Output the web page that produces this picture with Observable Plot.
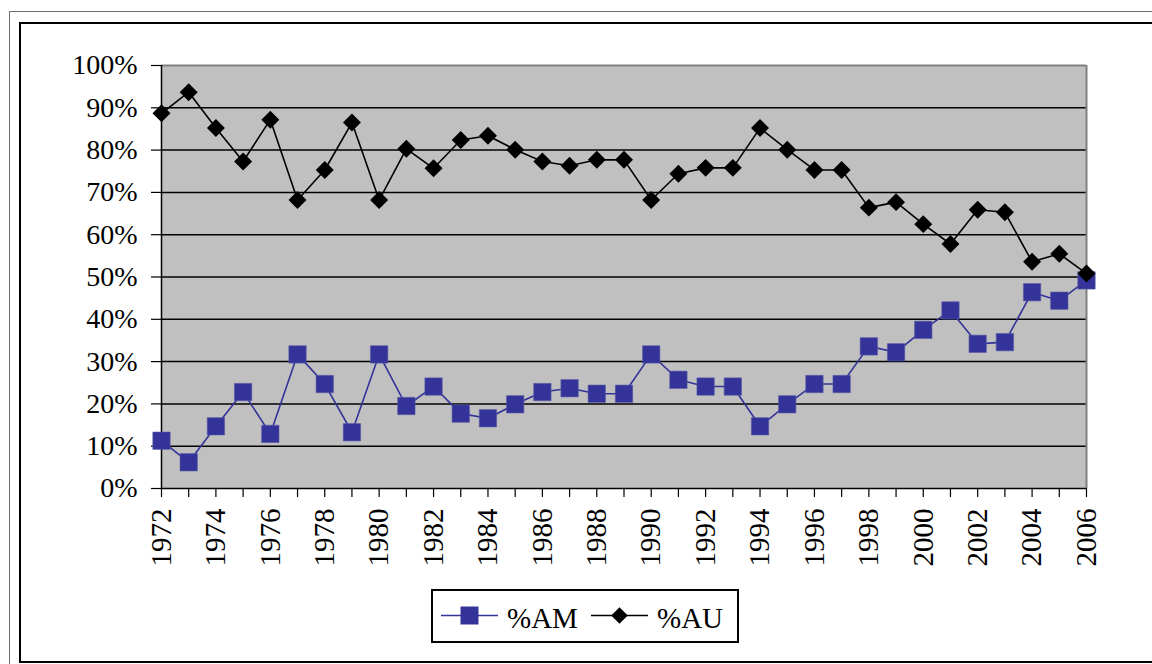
<!DOCTYPE html>
<html>
<head>
<meta charset="utf-8">
<script src="https://cdn.jsdelivr.net/npm/d3@7"></script>
<script src="https://cdn.jsdelivr.net/npm/@observablehq/plot@0.6"></script>
<style>
  html, body { margin: 0; padding: 0; background: #fff; }
  * { font-family: "Liberation Serif", "Times New Roman", serif !important; }
  #page { position: relative; width: 1152px; height: 664px; overflow: hidden; }
  #outer { position: absolute; left: 9px; top: 11px; width: 1200px; height: 700px; border: 1.5px solid #707070; box-sizing: border-box; }
  #inner { position: absolute; left: 19px; top: 22px; width: 1200px; height: 641px; border: 2px solid #000; box-sizing: border-box; }
  #chart { position: absolute; left: 0; top: 0; }
  #legend { position: absolute; left: 431px; top: 589px; width: 308px; height: 54px; border: 2px solid #000; box-sizing: border-box; background: #fff; }
  #legend svg { position: absolute; left: 0; top: 0; overflow: visible; }
</style>
</head>
<body>
<div id="page">
  <div id="outer"></div>
  <div id="inner"></div>
  <div id="chart"></div>
  <div id="legend"></div>
</div>
<script>
const years = [1972,1973,1974,1975,1976,1977,1978,1979,1980,1981,1982,1983,1984,1985,1986,1987,1988,1989,1990,1991,1992,1993,1994,1995,1996,1997,1998,1999,2000,2001,2002,2003,2004,2005,2006];
const am = [11.3,6.2,14.7,22.8,12.9,31.7,24.7,13.3,31.7,19.5,24.1,17.7,16.6,19.9,22.8,23.7,22.4,22.4,31.7,25.7,24.1,24.1,14.7,19.9,24.7,24.7,33.6,32.2,37.5,42.1,34.2,34.6,46.4,44.4,49.2];
const au = [88.7,93.7,85.2,77.3,87.2,68.2,75.3,86.5,68.2,80.3,75.7,82.4,83.4,80.1,77.3,76.3,77.7,77.7,68.2,74.4,75.8,75.8,85.2,80.1,75.3,75.3,66.4,67.7,62.5,57.8,65.9,65.3,53.6,55.5,50.8];
const yTicks = [0,10,20,30,40,50,60,70,80,90,100];
const xLabels = [1972,1974,1976,1978,1980,1982,1984,1986,1988,1990,1992,1994,1996,1998,2000,2002,2004,2006];
const seriesNames = ["%AM", "%AU"];

const data = years.map((y, i) => ({year: y, am: am[i] / 100, au: au[i] / 100}));
const gridVals = yTicks.filter(v => v > 0 && v < 100).map(v => v / 100);

const blue = "#333399";

const chart = Plot.plot({
  width: 1152,
  height: 600,
  marginLeft: 161,
  marginRight: 66,
  marginTop: 65,
  marginBottom: 112,
  style: {background: "transparent", color: "#000", overflow: "visible"},
  x: {type: "linear", domain: [1972, 2006]},
  y: {domain: [0, 1]},
  marks: [
    Plot.frame({fill: "#c0c0c0", stroke: "none"}),
    Plot.ruleY(gridVals, {stroke: "#000", strokeWidth: 1.5}),
    Plot.ruleY([1], {stroke: "#808080", strokeWidth: 2}),
    Plot.ruleX([2006], {stroke: "#808080", strokeWidth: 2}),
    Plot.ruleX([1972], {stroke: "#000", strokeWidth: 1.5}),
    Plot.ruleY([0], {stroke: "#000", strokeWidth: 1.5}),
    Plot.axisY({
      ticks: yTicks.map(v => v / 100),
      tickFormat: d => Math.round(d * 100) + "%",
      tickSize: 10, tickPadding: 14, fontSize: 28, label: null, strokeWidth: 1.2
    }),
    Plot.axisX({
      ticks: years,
      tickFormat: d => xLabels.includes(d) ? String(d) : "",
      tickRotate: -90, tickSize: 9, tickPadding: 11, fontSize: 29, label: null, strokeWidth: 1.2
    }),
    Plot.line(data, {x: "year", y: "am", stroke: blue, strokeWidth: 1.6}),
    Plot.dot(data, {x: "year", y: "am", symbol: "square", r: 9.8, fill: blue, stroke: "#5a5aa8", strokeWidth: 0.6}),
    Plot.line(data, {x: "year", y: "au", stroke: "#000", strokeWidth: 1.6}),
    Plot.dot(data, {x: "year", y: "au", symbol: "diamond2", r: 8.1, fill: "#000", stroke: "none"})
  ]
});
document.getElementById("chart").appendChild(chart);

// Legend
const lg = d3.select("#legend").append("svg").attr("width", 304).attr("height", 50);
const items = [
  {name: seriesNames[0], color: blue, sym: d3.symbolSquare, size: 18 * 18, x0: 8},
  {name: seriesNames[1], color: "#000", sym: d3.symbolDiamond2, size: Math.pow(8.1 * Math.sqrt(Math.PI), 2) * 0.85, x0: 158}
];
const cy = 24.5;
items.forEach(it => {
  const g = lg.append("g");
  g.append("line").attr("x1", it.x0).attr("x2", it.x0 + 57).attr("y1", cy).attr("y2", cy)
    .attr("stroke", it.color).attr("stroke-width", 1.6);
  g.append("path").attr("d", d3.symbol(it.sym, it.size)())
    .attr("transform", `translate(${it.x0 + 28.5},${cy})`).attr("fill", it.color);
  g.append("text").attr("x", it.x0 + 66).attr("y", 37).text(it.name)
    .attr("font-size", 29).attr("fill", "#000");
});
</script>
</body>
</html>
